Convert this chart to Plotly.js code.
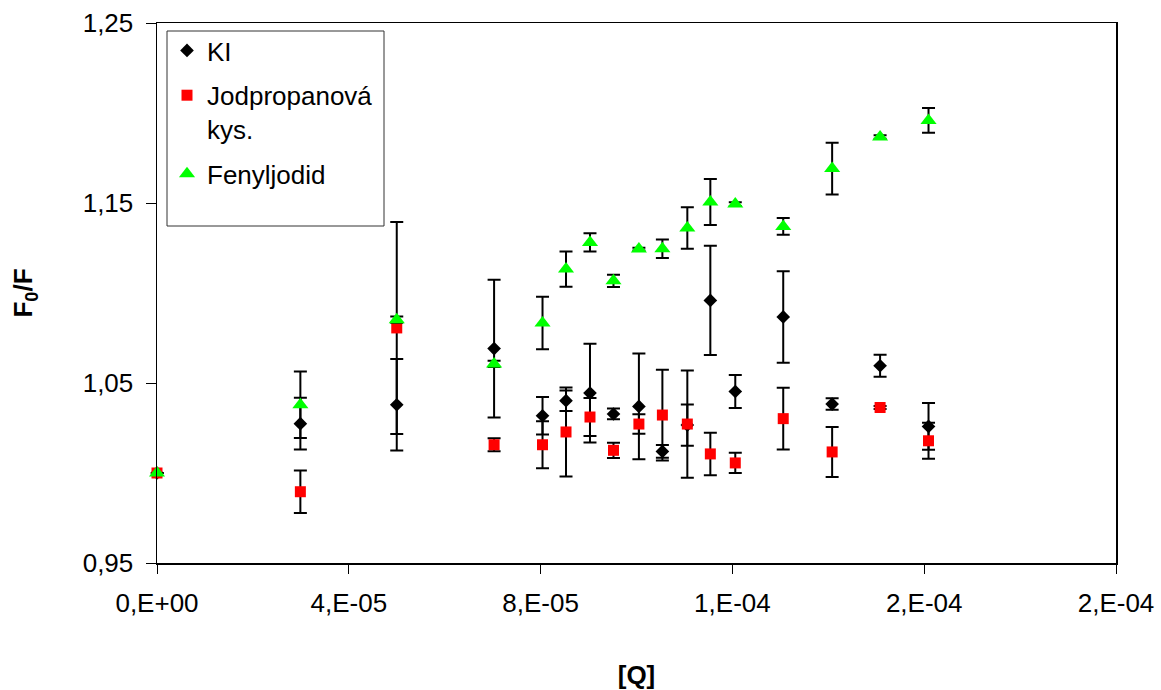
<!DOCTYPE html>
<html>
<head>
<meta charset="utf-8">
<script src="https://cdn.plot.ly/plotly-3.0.1.min.js"></script>
<style>html,body{margin:0;padding:0;background:#fff;}#chart{width:1161px;height:690px;}</style>
</head>
<body>
<div id="chart"></div>
<script>
// concentrations [Q]
const xQ = [0, 2.99e-5, 5.0e-5, 7.03e-5, 8.04e-5, 8.53e-5, 9.03e-5, 9.52e-5, 1.005e-4, 1.054e-4, 1.106e-4, 1.154e-4, 1.206e-4, 1.306e-4, 1.408e-4, 1.508e-4, 1.609e-4];
// KI
const kiY   = [1.0, 1.0274, 1.0379, 1.0691, 1.0318, 1.0402, 1.0444, 1.0328, 1.0370, 1.0120, 1.0266, 1.0959, 1.0453, 1.0867, 1.0383, 1.0596, 1.0259];
const kiErr = [0, 0.0144, 0.0254, 0.0383, 0.0104, 0.0057, 0.0274, 0.0030, 0.0294, 0.0035, 0.0114, 0.0304, 0.0092, 0.0254, 0.0032, 0.0061, 0.0130];
// Jodpropanová kys.
const jodY   = [1.0, 0.9896, 1.0806, 1.0157, 1.0157, 1.0228, 1.0311, 1.0126, 1.0272, 1.0322, 1.0272, 1.0106, 1.0056, 1.0302, 1.0117, 1.0364, 1.0179];
const jodErr = [0, 0.0118, 0.0589, 0.0036, 0.0130, 0.0247, 0.0106, 0.0042, 0.0054, 0.0252, 0.0298, 0.0118, 0.0056, 0.0171, 0.0139, 0.0008, 0.0100];
// Fenyljodid
const fenY   = [1.0, 1.0379, 1.0852, 1.0606, 1.0833, 1.1133, 1.1281, 1.1068, 1.1244, 1.1246, 1.1361, 1.1506, 1.1494, 1.1370, 1.1691, 1.1867, 1.1959];
const fenErr = [0, 0.0185, 0.0017, 0.0017, 0.0146, 0.0098, 0.0051, 0.0034, 0.0008, 0.0051, 0.0115, 0.0128, 0.0010, 0.0046, 0.0144, 0.0010, 0.0069];

const seriesNames = ["KI", "Jodpropanová<br>kys.", "Fenyljodid"];
const xTickVals = [0, 4e-5, 8e-5, 1.2e-4, 1.6e-4, 2e-4];
const xTickText = ["0,E+00", "4,E-05", "8,E-05", "1,E-04", "2,E-04", "2,E-04"];
const yTickVals = [0.95, 1.05, 1.15, 1.25];
const yTickText = ["0,95", "1,05", "1,15", "1,25"];

const FONT = "Liberation Sans, Arial, sans-serif";

function errObj(arr) {
  return {type: "data", array: arr, visible: true, color: "#000", thickness: 2, width: 6.5};
}

const traces = [
  {x: xQ, y: kiY, name: seriesNames[0], legendgroup: "a", mode: "markers", type: "scatter", cliponaxis: false,
   marker: {symbol: "diamond", size: 10.5, color: "#000"}, error_y: errObj(kiErr)},
  {x: xQ, y: jodY, name: seriesNames[1], legendgroup: "b", mode: "markers", type: "scatter", cliponaxis: false,
   marker: {symbol: "square", size: 11, color: "#ff0000"}, error_y: errObj(jodErr)},
  {x: xQ, y: fenY, name: seriesNames[2], legendgroup: "c", mode: "markers", type: "scatter", cliponaxis: false,
   marker: {symbol: "triangle-up", size: 14, color: "#00ff00"}, error_y: errObj(fenErr)}
];

// plot area in px: x 157..1116, y 23..563
const L = 157, R = 1116, T = 23, B = 563;
function px2paperX(p) { return (p - L) / (R - L); }
function px2paperY(p) { return (B - p) / (B - T); }

const layout = {
  width: 1161, height: 690,
  margin: {l: L, r: 1161 - R, t: T, b: 690 - B, pad: 0},
  paper_bgcolor: "#fff", plot_bgcolor: "#fff",
  font: {family: FONT, size: 26, color: "#000"},
  showlegend: true,
  legend: {
    x: px2paperX(167), y: px2paperY(27), xanchor: "left", yanchor: "top",
    bgcolor: "rgba(0,0,0,0)", borderwidth: 0, valign: "top",
    font: {family: FONT, size: 26, color: "#000"},
    itemwidth: 30, tracegroupgap: 8, traceorder: "grouped"
  },
  shapes: [
    {type: "rect", xref: "paper", yref: "paper", layer: "above",
     x0: px2paperX(167), x1: px2paperX(384), y0: px2paperY(31), y1: px2paperY(226),
     fillcolor: "#fff", line: {color: "#333", width: 1}}
  ],
  xaxis: {
    range: [0, 2e-4], tickmode: "array", tickvals: xTickVals, ticktext: xTickText,
    showgrid: false, zeroline: false, showline: true, linecolor: "#000", linewidth: 1.5, mirror: true,
    ticks: "outside", ticklen: 9, tickcolor: "#000", tickwidth: 1, ticklabelstandoff: 7,
    tickfont: {family: FONT, size: 26, color: "#000"},
    title: {text: "<b>[Q]</b>", font: {family: FONT, size: 26, color: "#000"}, standoff: 52}
  },
  yaxis: {
    range: [0.95, 1.25], tickmode: "array", tickvals: yTickVals, ticktext: yTickText,
    showgrid: false, zeroline: false, showline: true, linecolor: "#000", linewidth: 1.5, mirror: true,
    ticks: "outside", ticklen: 10, tickcolor: "#000", tickwidth: 1, ticklabelstandoff: 7,
    tickfont: {family: FONT, size: 26, color: "#000"},
    title: {text: "<b>F<sub>0</sub>/F</b>", font: {family: FONT, size: 26, color: "#000"}, standoff: 42}
  }
};

Plotly.newPlot("chart", traces, layout, {displayModeBar: false, staticPlot: true});
</script>
</body>
</html>
